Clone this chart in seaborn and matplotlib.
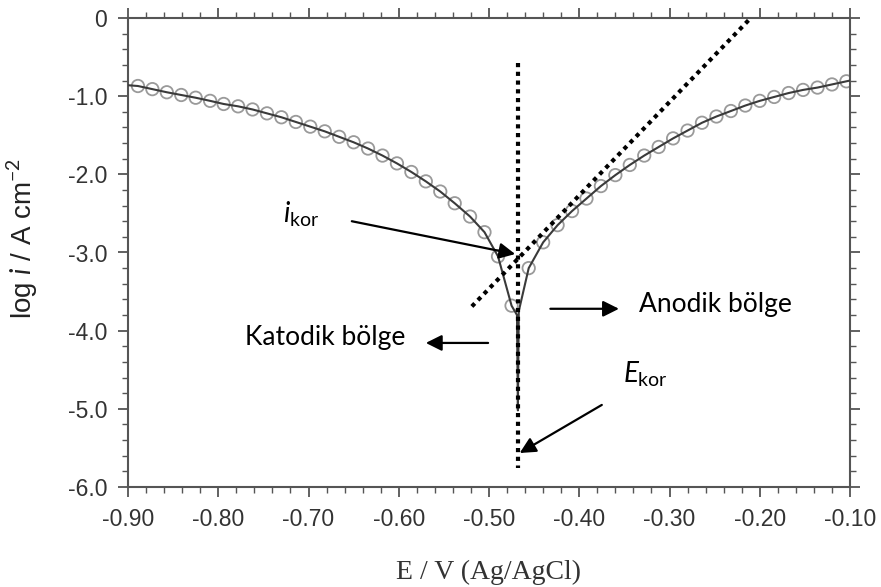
import matplotlib
matplotlib.use("Agg")
import matplotlib.pyplot as plt
from matplotlib.ticker import MultipleLocator, FormatStrFormatter
import numpy as np
import pandas as pd
import seaborn as sns

# Tafel polarisation curve: potential (V vs Ag/AgCl) and log current density
E_cathodic = [-0.889, -0.873, -0.857, -0.841, -0.825, -0.809, -0.794, -0.778,
              -0.762, -0.746, -0.730, -0.714, -0.698, -0.682, -0.666, -0.650,
              -0.634, -0.618, -0.602, -0.586, -0.570, -0.554, -0.538, -0.521,
              -0.505, -0.490, -0.475]
logi_cathodic = [-0.87, -0.91, -0.95, -0.985, -1.02, -1.06, -1.10, -1.13,
                 -1.17, -1.22, -1.27, -1.33, -1.39, -1.45, -1.52, -1.59,
                 -1.67, -1.76, -1.86, -1.97, -2.09, -2.22, -2.37, -2.54,
                 -2.74, -3.05, -3.68]
E_anodic = [-0.456, -0.440, -0.424, -0.408, -0.392, -0.376, -0.360, -0.344,
            -0.328, -0.312, -0.296, -0.280, -0.264, -0.248, -0.232, -0.216,
            -0.200, -0.184, -0.168, -0.152, -0.136, -0.120, -0.104]
logi_anodic = [-3.20, -2.87, -2.65, -2.47, -2.31, -2.15, -2.01, -1.88,
               -1.76, -1.65, -1.54, -1.44, -1.34, -1.26, -1.19, -1.12,
               -1.06, -1.01, -0.96, -0.92, -0.89, -0.85, -0.81]
# sharp minimum of the measured curve at the corrosion potential
E_dip = [-0.469, -0.468, -0.467]
logi_dip = [-3.80, -5.02, -3.75]
# curve end points on the axis limits
E_ends = [-0.900, -0.100]
logi_ends = [-0.86, -0.80]

E_corr = -0.468
ecorr_line_y = [-0.58, -5.76]
tafel_E = [-0.519, -0.210]
tafel_logi = [-3.69, 0.0]

x_ticks = [-0.90, -0.80, -0.70, -0.60, -0.50, -0.40, -0.30, -0.20, -0.10]
y_ticks = [0.0, -1.0, -2.0, -3.0, -4.0, -5.0, -6.0]

markers = pd.DataFrame({"E": E_cathodic + E_anodic,
                        "logi": logi_cathodic + logi_anodic})
curve = pd.DataFrame({
    "E": [E_ends[0]] + E_cathodic + E_dip + E_anodic + [E_ends[1]],
    "logi": [logi_ends[0]] + logi_cathodic + logi_dip + logi_anodic + [logi_ends[1]],
})

sns.set_theme(style="ticks")
plt.rcParams["font.family"] = ["Liberation Sans", "DejaVu Sans"]
plt.rcParams["mathtext.fontset"] = "custom"
plt.rcParams["mathtext.rm"] = "Lato"
plt.rcParams["mathtext.it"] = "Lato:italic"

fig = plt.figure(figsize=(8.81, 5.87), dpi=100)
ax = fig.add_axes([128 / 881, 1 - 487 / 587, 722 / 881, 469 / 587])

sns.lineplot(data=curve, x="E", y="logi", ax=ax, sort=False, estimator=None,
             color="#3a3a3a", linewidth=1.5, zorder=3)
pts = sns.scatterplot(data=markers, x="E", y="logi", ax=ax, marker="o",
                      s=80, linewidth=1.3, zorder=2)
pts.collections[-1].set_facecolor("none")
pts.collections[-1].set_edgecolor("#9a9a9a")

dot = (0, (1, 1.1))
ax.plot([E_corr, E_corr], ecorr_line_y, color="black", lw=3.0, ls=dot, zorder=4)
ax.plot(tafel_E, tafel_logi, color="black", lw=3.0, ls=dot, zorder=4)

ax.set_xlim(-0.90, -0.10)
ax.set_ylim(-6.0, 0.0)
ax.set_xticks(x_ticks)
ax.set_yticks(y_ticks)
ax.xaxis.set_major_formatter(FormatStrFormatter("%.2f"))
ax.yaxis.set_major_formatter(lambda v, p: "0" if v == 0 else f"{v:.1f}")
ax.xaxis.set_minor_locator(MultipleLocator(0.02))
ax.yaxis.set_minor_locator(MultipleLocator(0.2))
ax.tick_params(which="both", direction="out", top=True, right=True,
               color="#555555")
ax.tick_params(which="major", length=7, width=1.3, labelsize=16.5,
               labelcolor="#333333")
ax.tick_params(axis="x", which="major", pad=8)
ax.tick_params(axis="y", which="major", pad=8)
ax.tick_params(which="minor", length=4, width=1.0)
for sp in ax.spines.values():
    sp.set_color("#555555")
    sp.set_linewidth(1.5)

ax.set_xlabel("E / V (Ag/AgCl)", family="Liberation Serif", fontsize=20,
              color="#333333")
ax.xaxis.set_label_coords(0.5, -0.155)
ax.set_ylabel("log $i$ / A cm$^{-2}$", fontsize=20, color="#222222")
ax.yaxis.set_label_coords(-0.122, 0.53)

# annotations
arrow = dict(arrowstyle="-|>", color="black", lw=1.6, mutation_scale=24,
             shrinkA=0, shrinkB=0)
ann_font = dict(family="Lato", fontsize=19, color="black")
ax.annotate("", xy=(-0.471, -3.02), xytext=(-0.652, -2.60), arrowprops=arrow)
ax.annotate("", xy=(-0.570, -4.157), xytext=(-0.501, -4.157), arrowprops=arrow)
ax.annotate("", xy=(-0.356, -3.72), xytext=(-0.432, -3.72), arrowprops=arrow)
ax.annotate("", xy=(-0.466, -5.565), xytext=(-0.375, -4.95), arrowprops=arrow)

ax.text(-0.770, -4.09, "Katodik bölge", ha="left", va="center", **ann_font)
ax.text(-0.334, -3.67, "Anodik bölge", ha="left", va="center", **ann_font)
ax.text(-0.352, -4.66, r"$E_{\mathrm{kor}}$", ha="left", va="baseline",
        family="Lato", fontsize=20, color="black")
ax.text(-0.728, -2.61, r"$i_{\mathrm{kor}}$", ha="left", va="baseline",
        family="Lato", fontsize=20, color="black")

fig.savefig("out.png", dpi=100, facecolor="white")
